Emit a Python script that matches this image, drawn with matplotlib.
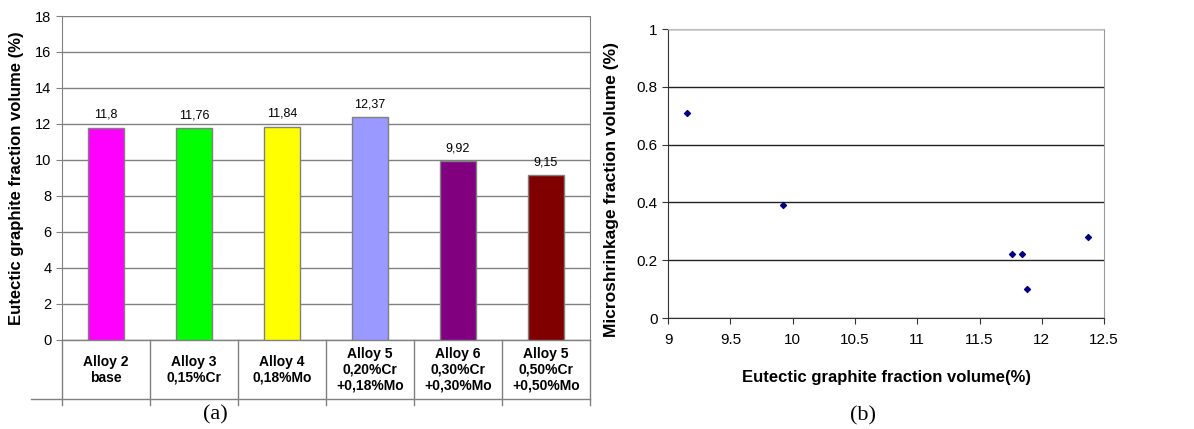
import numpy as np
import matplotlib
matplotlib.use("Agg")
import matplotlib.pyplot as plt

plt.rcParams["font.family"] = ["Liberation Sans", "DejaVu Sans"]

# (a) bar chart data
alloys = ["Alloy 2\nbase", "Alloy 3\n0,15%Cr", "Alloy 4\n0,18%Mo",
          "Alloy 5\n0,20%Cr\n+0,18%Mo", "Alloy 6\n0,30%Cr\n+0,30%Mo",
          "Alloy 5\n0,50%Cr\n+0,50%Mo"]
graphite = [11.8, 11.76, 11.84, 12.37, 9.92, 9.15]
value_labels = ["11,8", "11,76", "11,84", "12,37", "9,92", "9,15"]
bar_colors = ["#ff00ff", "#00ff00", "#ffff00", "#9999ff", "#800080", "#800000"]

# (b) scatter data
eut_x = [9.15, 9.92, 11.76, 11.84, 11.88, 12.37]
shrink_y = [0.71, 0.39, 0.22, 0.22, 0.10, 0.28]

fig = plt.figure(figsize=(11.94, 4.29), dpi=100)

# ---- (a) ----
ax = fig.add_axes([0.0519, 0.2075, 0.4422, 0.7552])
xs = np.arange(len(alloys))
ax.bar(xs, graphite, width=0.4, color=bar_colors, edgecolor="#808080",
       linewidth=1, zorder=3)
for x, v, lab in zip(xs, graphite, value_labels):
    ax.text(x, v + 0.4, lab, ha="center", va="bottom", fontsize=9)
ax.set_xlim(-0.5, len(alloys) - 0.5)
ax.set_ylim(0, 18)
ax.set_yticks(np.arange(0, 19, 2))
ax.yaxis.grid(True, color="#808080", linewidth=1)
ax.set_axisbelow(True)
ax.set_xticks([])
ax.tick_params(axis="y", labelsize=10.5, length=4, color="#808080", direction="out")
for s in ["top", "bottom"]:
    ax.spines[s].set_visible(False)
ax.spines["left"].set_color("#808080")
ax.spines["right"].set_color("#808080")
ax.set_ylabel("Eutectic graphite fraction volume (%)", fontsize=12,
              fontweight="bold", labelpad=8)

# category table below the axis
trans = ax.get_xaxis_transform()
ax.plot([-0.5, len(alloys) - 0.5], [0, 0], color="#808080", lw=1,
        transform=trans, clip_on=False)
ax.plot([-0.852, len(alloys) - 0.5], [-0.182, -0.182], color="#808080", lw=1,
        transform=trans, clip_on=False)
for b in np.arange(-0.5, len(alloys), 1.0):
    ax.plot([b, b], [0, -0.2], color="#808080", lw=1,
            transform=trans, clip_on=False)
for x, lab in zip(xs, alloys):
    ax.text(x, -0.092, lab, ha="center", va="center", fontsize=10,
            fontweight="bold", transform=trans, linespacing=1.2)
fig.text(215 / 1194, 1 - 415 / 429, "(a)", ha="center", va="center",
         fontsize=16, family="Liberation Serif")

# ---- (b) ----
bx = fig.add_axes([0.5595, 0.2587, 0.3652, 0.6737])
bx.scatter(eut_x, shrink_y, marker="D", s=9, color="#000080", zorder=3)
bx.set_xlim(9, 12.5)
bx.set_ylim(0, 1)
bx.set_xticks(np.arange(9, 12.6, 0.5))
bx.set_xticklabels(["9", "9.5", "10", "10.5", "11", "11.5", "12", "12.5"])
bx.set_yticks(np.arange(0, 1.01, 0.2))
bx.set_yticklabels(["0", "0.2", "0.4", "0.6", "0.8", "1"])
bx.yaxis.grid(True, color="#222222", linewidth=1)
bx.set_axisbelow(True)
bx.tick_params(labelsize=11, length=4, direction="out", color="#333333")
bx.tick_params(axis="x", pad=7)
bx.spines["top"].set_color("#bbbbbb")
bx.spines["right"].set_color("#999999")
bx.spines["left"].set_color("#333333")
bx.spines["bottom"].set_color("#333333")
bx.set_ylabel("Microshrinkage fraction volume (%)", fontsize=12.5,
              fontweight="bold")
bx.yaxis.set_label_coords(-0.112, 0.446)
bx.set_xlabel("Eutectic graphite fraction volume(%)", fontsize=12,
              fontweight="bold", labelpad=16)
fig.text(863 / 1194, 1 - 416 / 429, "(b)", ha="center", va="center",
         fontsize=16, family="Liberation Serif")

fig.savefig("out.png", dpi=100)
